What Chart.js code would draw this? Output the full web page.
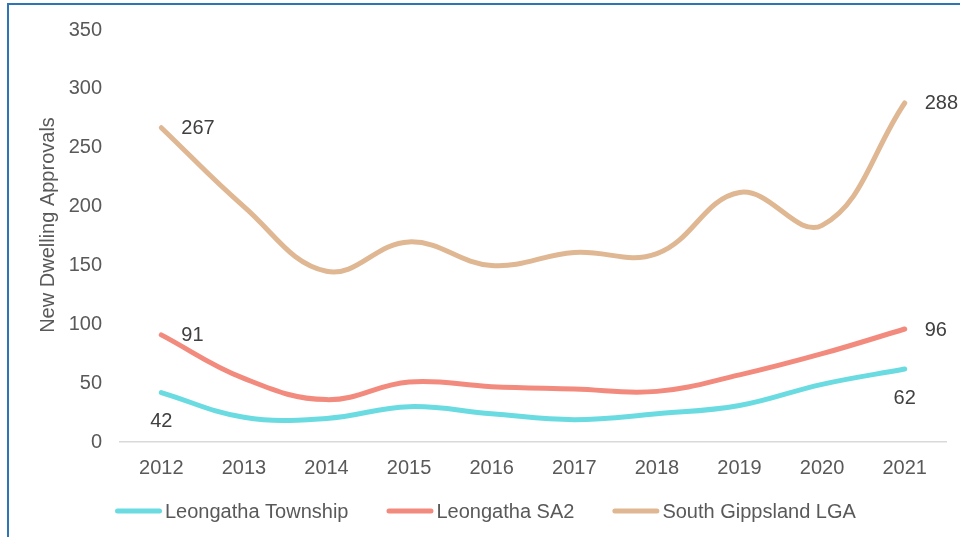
<!DOCTYPE html>
<html>
<head>
<meta charset="utf-8">
<title>New Dwelling Approvals</title>
<script src="https://cdn.jsdelivr.net/npm/chart.js@4"></script>
<style>
  html, body { margin: 0; padding: 0; background: #fff; }
  #wrap { position: relative; width: 960px; height: 537px; overflow: hidden; }
  #frame {
    position: absolute; left: 7px; top: 3px; width: 980px; height: 560px;
    border-left: 2px solid #2e75b6; border-top: 2px solid #2e75b6;
  }
  #chart { position: absolute; left: 0; top: 0; }
</style>
</head>
<body>
<div id="wrap">
  <div id="frame"></div>
  <canvas id="chart" width="960" height="537"></canvas>
</div>
<script>
// Years and approvals per area
var years = ["2012", "2013", "2014", "2015", "2016", "2017", "2018", "2019", "2020", "2021"];
var township = [42, 21, 20, 30, 24, 19, 24, 31, 49, 62];
var sa2 = [91, 54, 36, 51, 47, 45, 43, 57, 75, 96];
var lga = [267, 200, 145, 170, 150, 161, 160, 212, 184, 288];
var seriesNames = ["Leongatha Township", "Leongatha SA2", "South Gippsland LGA"];
var seriesColors = ["#6adbe0", "#f28b7e", "#dfb793"];
var yTicks = [0, 50, 100, 150, 200, 250, 300, 350];
var yTitle = "New Dwelling Approvals";

var FONT = "'Liberation Sans', Arial, sans-serif";
Chart.defaults.font.family = FONT;
Chart.defaults.font.size = 20;
Chart.defaults.color = "#595959";

// where the first / last value labels sit relative to their point
var endLabelPlace = [
  ["below", "below"],
  ["right", "right"],
  ["right", "right"]
];

var endLabels = {
  id: "endLabels",
  afterDatasetsDraw: function(chart) {
    var ctx = chart.ctx;
    ctx.save();
    ctx.font = "20px " + FONT;
    ctx.fillStyle = "#404040";
    chart.data.datasets.forEach(function(ds, i) {
      var pts = chart.getDatasetMeta(i).data;
      [0, pts.length - 1].forEach(function(idx, k) {
        var p = pts[idx];
        var txt = String(ds.data[idx]);
        ctx.textBaseline = "middle";
        if (endLabelPlace[i][k] === "right") {
          ctx.textAlign = "left";
          ctx.fillText(txt, p.x + 20, p.y + 1);
        } else {
          ctx.textAlign = "center";
          ctx.fillText(txt, p.x, p.y + 29);
        }
      });
    });
    ctx.restore();
  }
};

// vertical axis title, sitting a little above the plot's middle
var axisTitle = {
  id: "axisTitle",
  afterDraw: function(chart) {
    var ctx = chart.ctx;
    ctx.save();
    ctx.font = "20px " + FONT;
    ctx.fillStyle = "#595959";
    ctx.textAlign = "center";
    ctx.textBaseline = "middle";
    ctx.translate(48, 225);
    ctx.rotate(-Math.PI / 2);
    ctx.fillText(yTitle, 0, 0);
    ctx.restore();
  }
};

// legend drawn as short rounded strokes followed by the series name
var lineLegend = {
  id: "lineLegend",
  afterDraw: function(chart) {
    var ctx = chart.ctx;
    var lineW = 47, gapText = 3, gapItem = 38, y = 511;
    ctx.save();
    ctx.font = "20px " + FONT;
    var x = 115;
    chart.data.datasets.forEach(function(ds) {
      ctx.strokeStyle = ds.borderColor;
      ctx.lineWidth = 5;
      ctx.lineCap = "round";
      ctx.beginPath();
      ctx.moveTo(x + 2.5, y);
      ctx.lineTo(x + lineW - 2.5, y);
      ctx.stroke();
      ctx.fillStyle = "#595959";
      ctx.textAlign = "left";
      ctx.textBaseline = "middle";
      ctx.fillText(ds.label, x + lineW + gapText, y + 1);
      x += lineW + gapText + ctx.measureText(ds.label).width + gapItem;
    });
    ctx.restore();
  }
};

function makeSet(i, values) {
  return {
    label: seriesNames[i],
    data: values,
    borderColor: seriesColors[i],
    backgroundColor: seriesColors[i],
    borderWidth: 5,
    borderCapStyle: "round",
    borderJoinStyle: "round",
    pointRadius: 0,
    pointHoverRadius: 0,
    tension: 0.4,
    fill: false
  };
}

new Chart(document.getElementById("chart"), {
  type: "line",
  data: {
    labels: years,
    datasets: [makeSet(0, township), makeSet(1, sa2), makeSet(2, lga)]
  },
  options: {
    responsive: false,
    animation: false,
    layout: { padding: { top: 28, left: 32, right: 14, bottom: 60 } },
    plugins: {
      legend: { display: false },
      tooltip: { enabled: false }
    },
    scales: {
      x: {
        offset: true,
        grid: { display: false, drawTicks: false },
        border: { display: true, color: "#d9d9d9", width: 1.5 },
        ticks: { padding: 14, color: "#595959", font: { size: 20 } },
        afterFit: function(scale) { scale.height = 35; }
      },
      y: {
        min: 0,
        max: 350,
        grid: { display: false, drawTicks: false },
        border: { display: false },
        ticks: { padding: 18, color: "#595959", font: { size: 20 } },
        afterBuildTicks: function(scale) {
          scale.ticks = yTicks.map(function(v) { return { value: v }; });
        },
        afterFit: function(scale) { scale.width = 88; }
      }
    }
  },
  plugins: [endLabels, axisTitle, lineLegend]
});
</script>
</body>
</html>
